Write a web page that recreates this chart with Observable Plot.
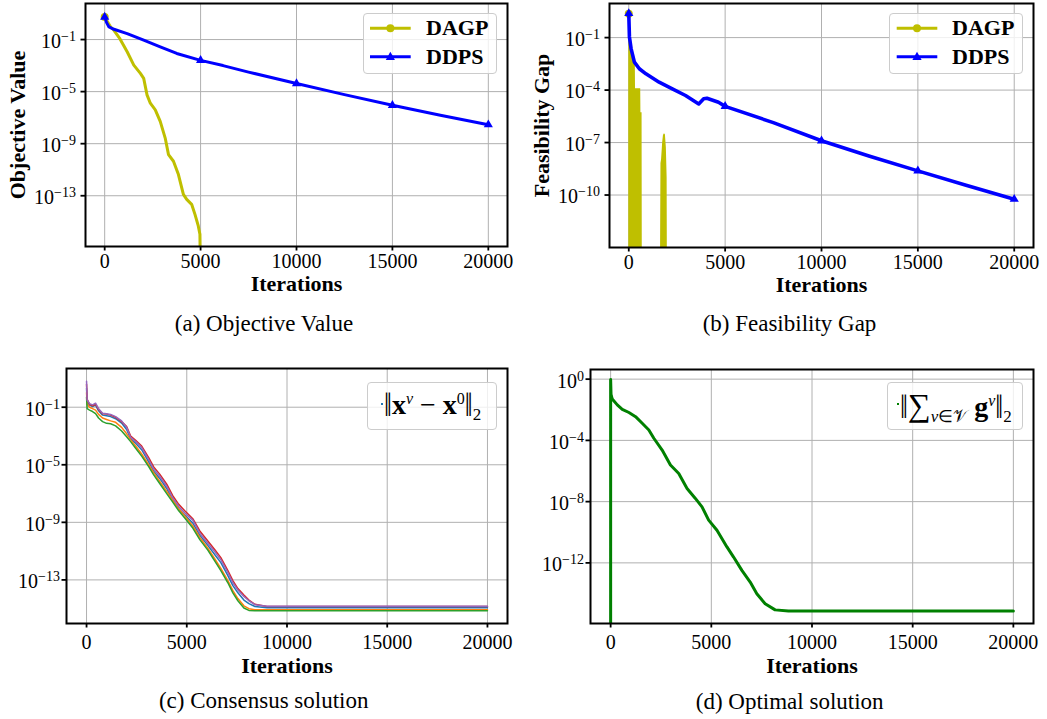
<!DOCTYPE html>
<html><head><meta charset="utf-8">
<script src="https://cdn.jsdelivr.net/npm/d3@7"></script>
<script src="https://cdn.jsdelivr.net/npm/@observablehq/plot@0.6"></script>
<style>
body{margin:0;background:#fff;}
#wrap{position:relative;width:1047px;height:719px;overflow:hidden;font-family:"Liberation Serif","Times New Roman",serif;color:#000;}
.panel{position:absolute;}
.cap{position:absolute;font-family:"Liberation Serif","Times New Roman",serif;font-size:23px;line-height:1;transform:translate(-50%,-50%);white-space:nowrap;}
.leg{position:absolute;box-sizing:border-box;border:1px solid #cccccc;border-radius:4px;background:rgba(255,255,255,0.8);}
.legtxt{position:absolute;font-weight:bold;font-size:22px;line-height:1;transform:translateY(-50%);white-space:nowrap;}
.math{position:absolute;font-size:28px;line-height:1;transform:translateY(-50%);white-space:nowrap;}
.math sup{font-size:16px;vertical-align:0.6em;line-height:0;}
.math sub{font-size:17px;vertical-align:-0.35em;line-height:0;}
.bar{display:inline-block;transform:scaleY(1.2);}
</style></head><body><div id="wrap"></div>
<script>
// ---------- shared axes ----------
const xTicks = [0, 5000, 10000, 15000, 20000];
const xDomain = [-1000, 21000];

// ---------- (a) Objective Value (log10 exponents) ----------
const aYTicks = [-1, -5, -9, -13];
const aYDomain = [-16.9, 1.77];
const dagpObjIter = [0, 310, 483, 800, 1172, 1517, 1862, 2034, 2207, 2379, 2638, 2896, 3155, 3327, 3586, 3845, 4103, 4276, 4534, 4707, 4879, 4965, 5000];
const dagpObjExp  = [0.73, -0.03, -0.29, -0.95, -1.94, -2.96, -3.6, -3.98, -5.25, -5.89, -6.4, -7.29, -8.57, -9.84, -10.35, -11.37, -12.9, -13.28, -13.66, -14.43, -15.32, -15.96, -20];
const ddpsObjIter = [0, 100, 224, 483, 1172, 2034, 2896, 3758, 5000, 6172, 7500, 10000, 12500, 15000, 17500, 20000];
const ddpsObjExp  = [0.73, 0.3, -0.03, -0.21, -0.54, -1.05, -1.56, -2.07, -2.6, -3.0, -3.5, -4.38, -5.23, -6.05, -6.82, -7.54];

// ---------- (b) Feasibility Gap ----------
const bYTicks = [-1, -4, -7, -10];
const bYDomain = [-13, 0.95];
const dagpFeasIter = [0, 15, 40, 120, 200, 300, 340, 350, 620, 630, 690, 700, 1650, 1670, 1700, 1760, 1800, 1850, 1900, 1950, 1990, 2000];
const dagpFeasExp  = [0.37, -0.9, -1.0, -1.3, -1.75, -2.2, -2.5, -3.93, -3.93, -5.3, -5.3, -13, -13, -8.2, -8.0, -7.0, -6.6, -6.5, -6.55, -7.3, -9, -13];
const ddpsFeasIter = [0, 34, 120, 291, 548, 890, 1575, 2260, 2945, 3630, 3886, 4057, 4656, 5000, 7500, 10000, 12500, 15000, 17500, 20000];
const ddpsFeasExp  = [0.38, -0.96, -1.63, -2.4, -2.78, -3.07, -3.55, -3.93, -4.31, -4.79, -4.5, -4.47, -4.7, -4.93, -5.86, -6.9, -7.78, -8.62, -9.44, -10.24];
const markerIters = [0, 5000, 10000, 15000, 20000];

// ---------- (c) Consensus solution ----------
const cYTicks = [-1, -5, -9, -13];
const cYDomain = [-16.03, 1.69];
const cIter   = [0, 30, 150, 300, 450, 600, 800, 1000, 1200, 1450, 1750, 2000, 2200, 2450, 2750, 3100, 3350, 3650, 4000, 4300, 4600, 4900, 5300, 5650, 6050, 6400, 6700, 7050, 7300, 7550, 7850, 8100, 8400, 9000, 20000];
const cBlue   = [0.3, -0.6, -0.85, -0.95, -0.85, -1.25, -1.55, -1.6, -1.65, -1.8, -2.1, -2.55, -3.2, -3.5, -3.95, -4.8, -5.45, -5.95, -6.65, -7.45, -8.05, -8.5, -9.05, -9.9, -10.6, -11.25, -11.8, -12.7, -13.4, -13.9, -14.4, -14.65, -14.85, -14.93, -14.93];
const cOrange = [0.0, -0.8, -1.0, -1.1, -1.2, -1.5, -1.75, -1.85, -1.95, -2.05, -2.4, -2.85, -3.25, -3.7, -4.25, -5.0, -5.55, -6.15, -6.85, -7.45, -8.05, -8.55, -9.25, -10.05, -10.8, -11.55, -12.2, -13.05, -13.75, -14.3, -14.8, -15.0, -15.07, -15.07, -15.07];
const cGreen  = [-0.3, -1.1, -1.2, -1.3, -1.45, -1.75, -2.0, -2.12, -2.15, -2.3, -2.65, -3.05, -3.39, -3.85, -4.4, -5.13, -5.7, -6.3, -7.0, -7.6, -8.2, -8.7, -9.4, -10.2, -10.93, -11.7, -12.35, -13.2, -13.9, -14.45, -14.95, -15.12, -15.15, -15.15, -15.15];
const cRed    = [0.6, -0.45, -0.8, -0.9, -0.8, -1.15, -1.45, -1.48, -1.55, -1.7, -2.0, -2.35, -3.0, -3.3, -3.7, -4.5, -5.15, -5.65, -6.35, -7.15, -7.75, -8.2, -8.75, -9.6, -10.3, -10.9, -11.45, -12.35, -13.05, -13.6, -14.05, -14.4, -14.7, -14.85, -14.85];
const cPurple = [0.8, -0.5, -0.75, -0.84, -0.72, -1.1, -1.42, -1.45, -1.5, -1.65, -1.95, -2.4, -3.1, -3.39, -3.8, -4.65, -5.3, -5.8, -6.5, -7.3, -7.9, -8.35, -8.85, -9.75, -10.45, -11.05, -11.6, -12.5, -13.2, -13.7, -14.15, -14.45, -14.72, -14.83, -14.83];
const cSeries = [["blue", cBlue, "#1f77b4"], ["orange", cOrange, "#ff7f0e"], ["green", cGreen, "#2ca02c"], ["red", cRed, "#d62728"], ["purple", cPurple, "#9467bd"]];

// ---------- (d) Optimal solution ----------
const dYTicks = [0, -4, -8, -12];
const dYDomain = [-15.96, 0.63];
const dIter = [0, 0, 20, 80, 330, 578, 908, 1238, 1568, 1898, 2145, 2558, 2970, 3383, 3795, 4208, 4538, 4868, 5280, 5775, 6105, 6518, 6930, 7260, 7673, 8168, 8828, 20000];
const dExp  = [-20, -0.03, -1.0, -1.3, -1.68, -1.97, -2.18, -2.45, -2.88, -3.32, -3.86, -4.63, -5.61, -6.16, -7.14, -7.79, -8.34, -9.21, -9.87, -10.96, -11.62, -12.49, -13.25, -14.02, -14.67, -15.07, -15.15, -15.15];

// ---------- helpers ----------
const NS = "http://www.w3.org/2000/svg";
const wrap = document.getElementById("wrap");
const toRows = (iters, exps) => iters.map((i, k) => ({i, v: 10 ** exps[k]}));

function panel(cfg) {
  const svg = Plot.plot({
    width: cfg.width, height: cfg.height,
    marginLeft: cfg.mL, marginRight: cfg.mR, marginTop: cfg.mT, marginBottom: cfg.mB,
    style: {fontFamily: "'Liberation Serif', serif", fontSize: "20px", background: "transparent", overflow: "visible", color: "black"},
    x: {domain: xDomain},
    y: {type: "log", domain: cfg.yDomain.map(e => 10 ** e)},
    marks: [
      Plot.gridX(xTicks, {stroke: "#b0b0b0", strokeOpacity: 1, strokeWidth: 1}),
      Plot.gridY(cfg.yTicks.map(e => 10 ** e), {stroke: "#b0b0b0", strokeOpacity: 1, strokeWidth: 1}),
      ...cfg.marks,
      Plot.frame({stroke: "black", strokeWidth: 2}),
      Plot.axisX({ticks: xTicks, tickFormat: d => String(d), tickSize: 4.5, tickPadding: cfg.xPad, strokeWidth: 1.8,
        label: "Iterations", labelAnchor: "center", labelOffset: cfg.xLabelOffset, labelArrow: "none"}),
      Plot.axisY({ticks: cfg.yTicks.map(e => 10 ** e), tickFormat: v => "10^" + Math.round(Math.log10(v)), tickSize: 4.5, tickPadding: cfg.yPad, strokeWidth: 1.8,
        label: cfg.yLabel ?? null, labelAnchor: "center", labelOffset: cfg.yLabelOffset ?? 0, labelArrow: "none"})
    ]
  });
  // superscript exponents for tick labels
  svg.querySelectorAll('g[aria-label="y-axis tick label"] text').forEach(t => {
    const m = t.textContent.match(/^10\^(-?\d+)$/);
    if (!m) return;
    t.textContent = "";
    const base = document.createElementNS(NS, "tspan"); base.textContent = "10";
    const sup = document.createElementNS(NS, "tspan");
    sup.setAttribute("dy", "-0.5em"); sup.setAttribute("font-size", "14px");
    sup.textContent = m[1].replace("-", "\u2212");
    t.append(base, sup);
    t.setAttribute("transform", (t.getAttribute("transform") || "") + " translate(0,2)");
  });
  svg.querySelectorAll('g[aria-label="x-axis label"] text, g[aria-label="y-axis label"] text').forEach(t => {
    t.setAttribute("font-weight", "bold"); t.setAttribute("font-size", "22px");
  });
  svg.classList.add("panel");
  svg.style.left = cfg.left + "px"; svg.style.top = cfg.top + "px";
  wrap.append(svg);
}

function caption(text, cx, cy) {
  const d = document.createElement("div"); d.className = "cap"; d.textContent = text;
  d.style.left = cx + "px"; d.style.top = cy + "px"; wrap.append(d);
}

function box(l, t, w, h) {
  const d = document.createElement("div"); d.className = "leg";
  Object.assign(d.style, {left: l + "px", top: t + "px", width: w + "px", height: h + "px"});
  wrap.append(d); return d;
}

function lineLegend(l, t, w, h, rows, hx0, hx1, tx) {
  const d = box(l, t, w, h);
  const s = document.createElementNS(NS, "svg");
  s.setAttribute("width", w); s.setAttribute("height", h);
  s.style.position = "absolute"; s.style.left = "-1px"; s.style.top = "-1px";
  rows.forEach(r => {
    const ln = document.createElementNS(NS, "line");
    Object.entries({x1: hx0, x2: hx1, y1: r.y, y2: r.y, stroke: r.color, "stroke-width": 3}).forEach(([k, v]) => ln.setAttribute(k, v));
    s.append(ln);
    const cx = (hx0 + hx1) / 2;
    let mk;
    if (r.symbol === "circle") {
      mk = document.createElementNS(NS, "circle");
      mk.setAttribute("cx", cx); mk.setAttribute("cy", r.y); mk.setAttribute("r", 4);
    } else {
      mk = document.createElementNS(NS, "path");
      mk.setAttribute("d", `M${cx},${r.y - 5}L${cx - 4.6},${r.y + 3.2}L${cx + 4.6},${r.y + 3.2}Z`);
    }
    mk.setAttribute("fill", r.color); s.append(mk);
    const tx_ = document.createElement("div"); tx_.className = "legtxt"; tx_.textContent = r.label;
    tx_.style.left = (tx - 1) + "px"; tx_.style.top = (r.y - 1) + "px"; d.append(tx_);
  });
  d.append(s);
}

function mathLegend(l, t, w, h, color, dashX, html, textX) {
  const d = box(l, t, w, h);
  const dash = document.createElement("div");
  Object.assign(dash.style, {position: "absolute", left: dashX + "px", top: (h / 2 - 4) + "px", width: "2px", height: "2px", background: color});
  d.append(dash);
  const m = document.createElement("div"); m.className = "math"; m.innerHTML = html;
  m.style.left = textX + "px"; m.style.top = (h / 2 - 2) + "px"; d.append(m);
}

// ---------- panel (a) ----------
const dagpObj = toRows(dagpObjIter, dagpObjExp);
const ddpsObj = toRows(ddpsObjIter, ddpsObjExp);
panel({left: 0, top: 0, width: 523, height: 300, mL: 85, mR: 16, mT: 3, mB: 54,
  yDomain: aYDomain, yTicks: aYTicks, yLabel: "Objective Value", yLabelOffset: 76, xLabelOffset: 44, xPad: 2.5, yPad: 5,
  marks: [
    Plot.line(dagpObj, {x: "i", y: "v", stroke: "#bfbf00", strokeWidth: 3, clip: true}),
    Plot.dot(dagpObj.filter(d => d.i === 0), {x: "i", y: "v", r: 4, fill: "#bfbf00", stroke: "none", clip: true}),
    Plot.line(ddpsObj, {x: "i", y: "v", stroke: "#0000ff", strokeWidth: 3, clip: true}),
    Plot.dot(ddpsObj.filter(d => markerIters.includes(d.i)), {x: "i", y: "v", r: 3.4, symbol: "triangle", fill: "#0000ff", stroke: "none"})
  ]});

// ---------- panel (b) ----------
const dagpFeas = toRows(dagpFeasIter, dagpFeasExp);
const ddpsFeas = toRows(ddpsFeasIter, ddpsFeasExp);
panel({left: 523, top: 0, width: 524, height: 300, mL: 86, mR: 14, mT: 3, mB: 53,
  yDomain: bYDomain, yTicks: bYTicks, yLabel: "Feasibility Gap", yLabelOffset: 76, xLabelOffset: 44, xPad: 2.5, yPad: 5,
  marks: [
    Plot.areaY(dagpFeas, {x: "i", y1: 10 ** bYDomain[0], y2: "v", fill: "#bfbf00", curve: "linear", clip: true}),
    Plot.dot(dagpFeas.filter(d => d.i === 0), {x: "i", y: "v", r: 4, fill: "#bfbf00", stroke: "none"}),
    Plot.line(ddpsFeas, {x: "i", y: "v", stroke: "#0000ff", strokeWidth: 3.6, clip: true}),
    Plot.dot(ddpsFeas.filter(d => markerIters.includes(d.i)), {x: "i", y: "v", r: 3.4, symbol: "triangle", fill: "#0000ff", stroke: "none"})
  ]});

// ---------- panel (c) ----------
const cRows = cSeries.flatMap(([name, vals, color]) => cIter.map((i, k) => ({i, v: 10 ** vals[k], name, color})));
panel({left: 0, top: 360, width: 523, height: 300, mL: 66, mR: 16, mT: 8, mB: 37,
  yDomain: cYDomain, yTicks: cYTicks, xLabelOffset: 49, xPad: 6.5, yPad: 2,
  marks: [
    Plot.line(cRows, {x: "i", y: "v", z: "name", stroke: "color", strokeWidth: 1.5, clip: true})
  ]});

// ---------- panel (d) ----------
const dRows = toRows(dIter, dExp);
panel({left: 523, top: 360, width: 524, height: 300, mL: 67, mR: 14, mT: 9, mB: 37,
  yDomain: dYDomain, yTicks: dYTicks, xLabelOffset: 49, xPad: 6.5, yPad: 2,
  marks: [
    Plot.line(dRows, {x: "i", y: "v", stroke: "#008000", strokeWidth: 3, clip: true})
  ]});

// ---------- legends ----------
lineLegend(363, 13, 134, 61, [
  {label: "DAGP", color: "#bfbf00", symbol: "circle", y: 15.3},
  {label: "DDPS", color: "#0000ff", symbol: "triangle", y: 43.7}
], 7, 47.7, 63);
lineLegend(889, 13, 134, 61, [
  {label: "DAGP", color: "#bfbf00", symbol: "circle", y: 15.3},
  {label: "DDPS", color: "#0000ff", symbol: "triangle", y: 43.7}
], 7.7, 48.3, 63);
mathLegend(367, 382, 130, 48, "#1f77b4", 13, '<span class="bar">‖</span><b>x</b><sup><i>ν</i></sup> − <b>x</b><sup>0</sup><span class="bar">‖</span><sub>2</sub>', 16);
mathLegend(887, 382, 136, 48, "#008000", 9, '<span class="bar">‖</span><span style="font-size:32px">∑</span><sub><i>v</i>∈𝒱</sub> <b>g</b><sup><i>ν</i></sup><span class="bar">‖</span><sub>2</sub>', 12);

// ---------- captions ----------
caption("(a) Objective Value", 264, 323);
caption("(b) Feasibility Gap", 789.5, 323);
caption("(c) Consensus solution", 263.7, 700);
caption("(d) Optimal solution", 789.7, 700.7);
</script></body></html>
